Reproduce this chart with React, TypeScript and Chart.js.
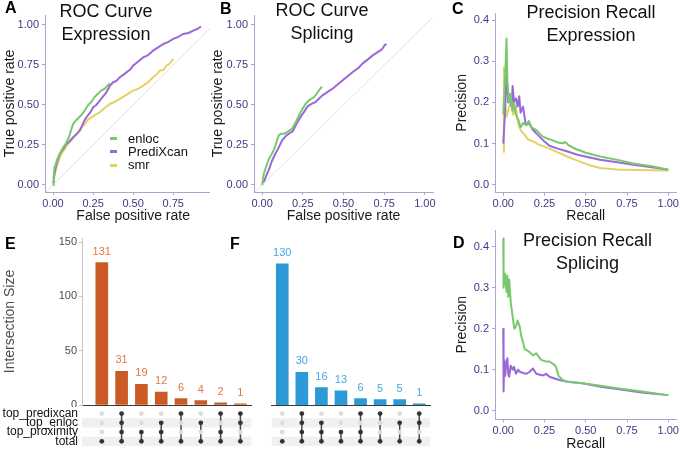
import React, { useEffect, useRef } from "react";
import { Chart, registerables } from "chart.js";

Chart.register(...registerables);

const FONT = "'Liberation Sans', Arial, Helvetica, sans-serif";
Chart.defaults.font.family = FONT;

// ---------------- data ----------------
const legendLabels = ["enloc", "PrediXcan", "smr"];

// ROC – Expression
const rocExprEnlocFpr = [0, 0.005, 0.01, 0.02, 0.03, 0.045, 0.06, 0.075, 0.09, 0.1, 0.115, 0.125, 0.14, 0.16, 0.18, 0.2, 0.22, 0.24, 0.26, 0.28, 0.3, 0.32, 0.34, 0.355];
const rocExprEnlocTpr = [0, 0.06, 0.11, 0.14, 0.17, 0.2, 0.23, 0.25, 0.28, 0.3, 0.35, 0.38, 0.4, 0.42, 0.44, 0.47, 0.5, 0.52, 0.55, 0.57, 0.59, 0.6, 0.62, 0.635];
const rocExprPredFpr = [0, 0.005, 0.017, 0.03, 0.042, 0.06, 0.083, 0.1, 0.125, 0.145, 0.167, 0.19, 0.208, 0.23, 0.25, 0.27, 0.292, 0.31, 0.333, 0.355, 0.375, 0.395, 0.417, 0.44, 0.458, 0.48, 0.5, 0.53, 0.563, 0.59, 0.625, 0.655, 0.688, 0.72, 0.75, 0.78, 0.813, 0.845, 0.875, 0.9, 0.923];
const rocExprPredTpr = [0, 0.05, 0.11, 0.16, 0.194, 0.22, 0.256, 0.27, 0.298, 0.315, 0.34, 0.39, 0.423, 0.45, 0.485, 0.5, 0.527, 0.55, 0.579, 0.62, 0.642, 0.65, 0.673, 0.69, 0.704, 0.72, 0.746, 0.77, 0.798, 0.81, 0.84, 0.86, 0.881, 0.895, 0.913, 0.925, 0.944, 0.95, 0.965, 0.975, 0.99];
const rocExprSmrFpr = [0, 0.01, 0.021, 0.035, 0.052, 0.07, 0.094, 0.12, 0.146, 0.17, 0.198, 0.22, 0.24, 0.265, 0.292, 0.32, 0.354, 0.385, 0.417, 0.46, 0.5, 0.53, 0.563, 0.59, 0.625, 0.645, 0.667, 0.69, 0.708, 0.73, 0.75];
const rocExprSmrTpr = [0, 0.06, 0.11, 0.15, 0.194, 0.22, 0.256, 0.285, 0.319, 0.35, 0.381, 0.41, 0.423, 0.44, 0.454, 0.48, 0.506, 0.52, 0.538, 0.565, 0.59, 0.6, 0.621, 0.64, 0.673, 0.69, 0.715, 0.72, 0.746, 0.76, 0.788];

// ROC – Splicing
const rocSplEnlocFpr = [0, 0.01, 0.02, 0.031, 0.045, 0.062, 0.08, 0.095, 0.103, 0.115, 0.134, 0.16, 0.186, 0.205, 0.227, 0.245, 0.268, 0.29, 0.32, 0.345, 0.367];
const rocSplEnlocTpr = [0, 0.07, 0.1, 0.135, 0.17, 0.198, 0.24, 0.29, 0.31, 0.32, 0.32, 0.335, 0.354, 0.39, 0.437, 0.47, 0.51, 0.53, 0.55, 0.585, 0.615];
const rocSplPredFpr = [0, 0.015, 0.03, 0.041, 0.06, 0.083, 0.1, 0.124, 0.15, 0.17, 0.186, 0.21, 0.237, 0.26, 0.278, 0.3, 0.33, 0.35, 0.371, 0.4, 0.433, 0.46, 0.495, 0.52, 0.557, 0.59, 0.618, 0.65, 0.68, 0.71, 0.732, 0.745, 0.753, 0.765];
const rocSplPredTpr = [0, 0.03, 0.07, 0.094, 0.15, 0.198, 0.23, 0.281, 0.31, 0.325, 0.333, 0.38, 0.427, 0.46, 0.49, 0.505, 0.52, 0.54, 0.56, 0.58, 0.602, 0.625, 0.654, 0.675, 0.706, 0.73, 0.76, 0.785, 0.81, 0.83, 0.844, 0.86, 0.875, 0.88];

// Precision-Recall – Expression
const prExprEnlocRecall = [0, 0.01, 0.02, 0.025, 0.035, 0.045, 0.055, 0.065, 0.077, 0.09, 0.105, 0.12, 0.14, 0.155, 0.17, 0.2, 0.22, 0.24, 0.27, 0.3, 0.33, 0.36, 0.375, 0.4, 0.44, 0.5, 0.586, 0.7, 0.788, 0.9, 1.0];
const prExprEnlocPrecision = [0.17, 0.25, 0.355, 0.25, 0.2, 0.22, 0.18, 0.2, 0.17, 0.16, 0.14, 0.15, 0.145, 0.155, 0.14, 0.133, 0.125, 0.117, 0.112, 0.108, 0.103, 0.101, 0.104, 0.095, 0.087, 0.078, 0.069, 0.06, 0.052, 0.045, 0.037];
const prExprPredRecall = [0, 0.01, 0.02, 0.03, 0.04, 0.05, 0.057, 0.065, 0.077, 0.087, 0.097, 0.105, 0.12, 0.137, 0.155, 0.177, 0.2, 0.22, 0.25, 0.28, 0.33, 0.38, 0.45, 0.586, 0.7, 0.788, 0.9, 1.0];
const prExprPredPrecision = [0.1, 0.17, 0.275, 0.2, 0.22, 0.19, 0.24, 0.2, 0.21, 0.19, 0.215, 0.175, 0.19, 0.145, 0.15, 0.135, 0.125, 0.117, 0.105, 0.095, 0.088, 0.082, 0.073, 0.061, 0.054, 0.049, 0.043, 0.037];
const prExprSmrRecall = [0, 0.004, 0.01, 0.02, 0.03, 0.036, 0.05, 0.06, 0.077, 0.085, 0.097, 0.11, 0.127, 0.15, 0.177, 0.22, 0.28, 0.33, 0.38, 0.43, 0.48, 0.53, 0.586, 0.69, 0.8, 1.0];
const prExprSmrPrecision = [0.08, 0.285, 0.2, 0.165, 0.18, 0.19, 0.2, 0.17, 0.19, 0.16, 0.14, 0.13, 0.123, 0.11, 0.106, 0.097, 0.088, 0.079, 0.07, 0.062, 0.054, 0.047, 0.041, 0.037, 0.036, 0.035];

// Precision-Recall – Splicing
const prSplEnlocRecall = [0, 0.002, 0.01, 0.02, 0.025, 0.03, 0.036, 0.046, 0.057, 0.067, 0.077, 0.087, 0.1, 0.11, 0.117, 0.13, 0.157, 0.18, 0.2, 0.23, 0.26, 0.28, 0.31, 0.32, 0.335, 0.36, 0.38, 0.48, 0.6, 0.69, 0.85, 1.0];
const prSplEnlocPrecision = [0.42, 0.3, 0.335, 0.29, 0.33, 0.278, 0.32, 0.262, 0.23, 0.2, 0.205, 0.22, 0.205, 0.18, 0.172, 0.15, 0.144, 0.135, 0.14, 0.124, 0.12, 0.12, 0.112, 0.107, 0.085, 0.075, 0.071, 0.067, 0.06, 0.055, 0.046, 0.038];
const prSplPredRecall = [0, 0.002, 0.006, 0.012, 0.018, 0.025, 0.03, 0.036, 0.045, 0.057, 0.065, 0.077, 0.09, 0.1, 0.12, 0.14, 0.16, 0.18, 0.2, 0.24, 0.26, 0.28, 0.34, 0.4, 0.48, 0.6, 0.69, 0.85, 1.0];
const prSplPredPrecision = [0.2, 0.047, 0.124, 0.085, 0.115, 0.128, 0.09, 0.083, 0.11, 0.1, 0.107, 0.09, 0.1, 0.095, 0.092, 0.09, 0.095, 0.103, 0.09, 0.086, 0.09, 0.083, 0.075, 0.07, 0.067, 0.058, 0.053, 0.044, 0.038];

// UpSet plots
const upsetSets = ["top_predixcan", "top_enloc", "top_proximity", "total"];
const exprIntersectionSizes = [131, 31, 19, 12, 6, 4, 2, 1];
const exprMembership = [
  [0, 0, 0, 1],
  [1, 1, 1, 1],
  [0, 0, 1, 1],
  [0, 1, 1, 1],
  [1, 0, 0, 1],
  [0, 1, 0, 1],
  [1, 0, 1, 1],
  [1, 1, 0, 1],
];
const splIntersectionSizes = [130, 30, 16, 13, 6, 5, 5, 1];
const splMembership = [
  [0, 0, 0, 1],
  [1, 1, 1, 1],
  [0, 1, 1, 1],
  [0, 0, 1, 1],
  [1, 0, 1, 1],
  [1, 0, 0, 1],
  [0, 1, 0, 1],
  [1, 1, 0, 1],
];

const rocTicks = [0, 0.25, 0.5, 0.75, 1];
const rocTicksA = [0, 0.25, 0.5, 0.75];
const prTicks = [0, 0.1, 0.2, 0.3, 0.4];
const upsetYTicks = [0, 50, 100, 150];

// ---------------- styles ----------------
const GREEN = "#78c96b";
const PURPLE = "#9b69d6";
const YELLOW = "#e4d266";
const AXIS_TEXT = "#3c3a84";
const AXIS_LINE = "#aba5d3";
const ORANGE = "#cc5a25";
const ORANGE_TXT = "#e2773f";
const BLUE = "#2b9ad6";
const BLUE_TXT = "#43a8e0";

function pts(xs: number[], ys: number[]) {
  return xs.map((x, i) => ({ x, y: ys[i] }));
}

function fixSize(w: number | null, h: number | null) {
  return (s: any) => {
    if (w !== null) s.width = w;
    if (h !== null) s.height = h;
    s.paddingTop = 0;
    s.paddingBottom = 0;
    s.paddingLeft = 0;
    s.paddingRight = 0;
  };
}

function linePanel(o: any) {
  const datasets: any[] = [];
  if (o.diagonal) {
    datasets.push({
      data: [{ x: -0.2, y: -0.2 }, { x: 1.3, y: 1.3 }],
      borderColor: "#e2e2e2",
      borderWidth: 1,
      pointRadius: 0,
      showLine: true,
    });
  }
  o.series.forEach((s: any) =>
    datasets.push({
      data: pts(s.xs, s.ys),
      borderColor: s.color,
      borderWidth: 2,
      pointRadius: 0,
      showLine: true,
      tension: 0,
      borderJoinStyle: "round",
    })
  );
  return {
    type: "scatter",
    data: { datasets },
    options: {
      responsive: false,
      animation: false,
      devicePixelRatio: 1,
      events: [],
      layout: { padding: o.pad },
      plugins: { legend: { display: false }, tooltip: { enabled: false } },
      scales: {
        x: {
          type: "linear",
          min: o.xMin,
          max: o.xMax,
          afterBuildTicks: (s: any) => {
            s.ticks = o.xTicks.map((v: number) => ({ value: v }));
          },
          afterFit: fixSize(null, o.xAxisH),
          ticks: {
            callback: (v: any) => Number(v).toFixed(2),
            color: AXIS_TEXT,
            font: { size: 11 },
            padding: 2,
            autoSkip: false,
            maxRotation: 0,
          },
          grid: { drawOnChartArea: false, drawTicks: true, tickLength: 3, color: AXIS_LINE },
          border: { color: AXIS_LINE, width: 1 },
          title: {
            display: true,
            text: o.xTitle,
            color: "#1a1a1a",
            font: { size: 14, lineHeight: 1.2 },
            padding: { top: 0, bottom: o.xTitlePad },
          },
        },
        y: {
          type: "linear",
          min: o.yMin,
          max: o.yMax,
          afterBuildTicks: (s: any) => {
            s.ticks = o.yTicks.map((v: number) => ({ value: v }));
          },
          afterFit: fixSize(o.yAxisW, null),
          ticks: {
            callback: (v: any) => Number(v).toFixed(o.yDec),
            color: AXIS_TEXT,
            font: { size: 11 },
            padding: 3,
            autoSkip: false,
          },
          grid: { drawOnChartArea: false, drawTicks: true, tickLength: 3, color: AXIS_LINE },
          border: { color: AXIS_LINE, width: 1 },
          title: {
            display: true,
            text: o.yTitle,
            color: "#1a1a1a",
            font: { size: 14, lineHeight: 1.2 },
            padding: { top: o.yTitlePad, bottom: 0 },
          },
        },
      },
    },
  };
}

function barLabelPlugin(color: string) {
  return {
    id: "barLabels",
    afterDatasetsDraw(chart: any) {
      const ctx = chart.ctx;
      const meta = chart.getDatasetMeta(0);
      const data = chart.data.datasets[0].data;
      ctx.save();
      ctx.font = `11px ${FONT}`;
      ctx.fillStyle = color;
      ctx.textAlign = "center";
      ctx.textBaseline = "middle";
      meta.data.forEach((el: any, i: number) => {
        ctx.fillText(String(data[i].y), el.x, el.y - 11);
      });
      ctx.restore();
    },
  };
}

function upsetBars(sizes: number[], color: string, labelColor: string, showY: boolean, o: any) {
  return {
    type: "bar",
    data: {
      datasets: [
        {
          data: sizes.map((v, i) => ({ x: i + 1, y: v })),
          backgroundColor: color,
          barThickness: 12,
          borderWidth: 0,
        },
      ],
    },
    options: {
      responsive: false,
      animation: false,
      devicePixelRatio: 1,
      events: [],
      layout: { padding: o.pad },
      plugins: { legend: { display: false }, tooltip: { enabled: false } },
      scales: {
        x: {
          type: "linear",
          min: o.xMin,
          max: o.xMax,
          offset: false,
          ticks: { display: false },
          grid: { display: false },
          border: { display: true, color: "#3a3a3a", width: 1 },
          afterFit: fixSize(null, 0),
        },
        y: {
          display: showY,
          type: "linear",
          min: 0,
          max: 153.7,
          afterBuildTicks: (s: any) => {
            s.ticks = upsetYTicks.map((v) => ({ value: v }));
          },
          afterFit: fixSize(showY ? 82 : 0, null),
          ticks: { color: "#4d4d4d", font: { size: 11 }, padding: 2 },
          grid: { drawOnChartArea: false, drawTicks: true, tickLength: 3, color: "#c4c4c4" },
          border: { color: "#c4c4c4", width: 1 },
          title: {
            display: true,
            text: "Intersection Size",
            color: "#4d4d4d",
            font: { size: 14, lineHeight: 1.2 },
            padding: { top: 1.6, bottom: 0 },
          },
        },
      },
    },
    plugins: [barLabelPlugin(labelColor)],
  };
}

const stripePlugin = {
  id: "stripes",
  beforeDatasetsDraw(chart: any) {
    const { ctx, chartArea } = chart;
    const y = chart.scales.y;
    ctx.save();
    ctx.fillStyle = "#f0f0f0";
    [2, 0].forEach((v) => {
      const t = y.getPixelForValue(v + 0.5);
      const b = y.getPixelForValue(v - 0.5);
      ctx.fillRect(chartArea.left, t, chartArea.right - chartArea.left, b - t);
    });
    ctx.restore();
  },
};

function upsetMatrix(membership: number[][], showLabels: boolean, o: any) {
  const inactive: any[] = [];
  const lines: any[] = [];
  membership.forEach((col, ci) => {
    const active: any[] = [];
    col.forEach((m, ri) => {
      const p = { x: ci + 1, y: 3 - ri };
      if (m) active.push(p);
      else inactive.push(p);
    });
    lines.push({
      data: active,
      showLine: true,
      borderColor: "#4a4a4a",
      borderWidth: 1.5,
      pointRadius: 2.4,
      pointBackgroundColor: "#333333",
      pointBorderWidth: 0,
    });
  });
  return {
    type: "scatter",
    data: {
      datasets: [
        { data: inactive, pointRadius: 2.4, pointBackgroundColor: "#dcdcdc", pointBorderWidth: 0, showLine: false },
        ...lines,
      ],
    },
    options: {
      responsive: false,
      animation: false,
      devicePixelRatio: 1,
      events: [],
      layout: { padding: o.pad },
      plugins: { legend: { display: false }, tooltip: { enabled: false } },
      scales: {
        x: { type: "linear", min: o.xMin, max: o.xMax, display: false, afterFit: fixSize(null, 0) },
        y: {
          type: "linear",
          min: -0.5,
          max: 3.5,
          display: showLabels,
          afterBuildTicks: (s: any) => {
            s.ticks = [3, 2, 1, 0].map((v) => ({ value: v }));
          },
          afterFit: fixSize(showLabels ? 82 : 0, null),
          ticks: {
            callback: (v: any) => upsetSets[3 - Number(v)],
            color: "#111111",
            font: { size: 12 },
            padding: 4,
            autoSkip: false,
          },
          grid: { display: false, drawTicks: false },
          border: { display: false },
        },
      },
    },
    plugins: [stripePlugin],
  };
}

function ChartBox(props: any) {
  const { left, top, width, height, make, bg } = props;
  const ref = useRef<HTMLCanvasElement>(null);
  useEffect(() => {
    const chart = new Chart(ref.current as HTMLCanvasElement, make());
    return () => chart.destroy();
  }, []);
  return (
    <canvas
      ref={ref}
      width={width}
      height={height}
      style={{ position: "absolute", left, top, width, height, background: bg || "transparent" }}
    />
  );
}

function Title({ cx, top, lines }: any) {
  return (
    <div
      style={{
        position: "absolute",
        left: cx - 90,
        width: 180,
        top,
        textAlign: "center",
        fontFamily: FONT,
        fontSize: 18,
        lineHeight: "23px",
        color: "#111",
        whiteSpace: "nowrap",
      }}
    >
      {lines.map((l: string, i: number) => (
        <div key={i}>{l}</div>
      ))}
    </div>
  );
}

function Letter({ x, y, t }: any) {
  return (
    <div
      style={{
        position: "absolute",
        left: x,
        top: y,
        fontFamily: FONT,
        fontWeight: "bold",
        fontSize: 16,
        lineHeight: "16px",
        color: "#000",
      }}
    >
      {t}
    </div>
  );
}

export default function App() {
  const legendColors = [GREEN, PURPLE, YELLOW];
  const legendY = [138.5, 151.7, 165];
  return (
    <div
      style={{
        position: "fixed",
        left: 0,
        top: 0,
        width: 680,
        height: 450,
        background: "#fff",
        overflow: "hidden",
        fontFamily: FONT,
      }}
    >
      {/* A */}
      <ChartBox
        left={0}
        top={0}
        width={228}
        height={225}
        make={() =>
          linePanel({
            diagonal: true,
            series: [
              { xs: rocExprEnlocFpr, ys: rocExprEnlocTpr, color: GREEN },
              { xs: rocExprPredFpr, ys: rocExprPredTpr, color: PURPLE },
              { xs: rocExprSmrFpr, ys: rocExprSmrTpr, color: YELLOW },
            ],
            xMin: -0.05,
            xMax: 1.05,
            yMin: -0.044,
            yMax: 1.0625,
            xTicks: rocTicksA,
            yTicks: rocTicks,
            yDec: 2,
            xTitle: "False positive rate",
            yTitle: "True positive rate",
            yAxisW: 45,
            yTitlePad: 1.6,
            xAxisH: 33,
            xTitlePad: 0.6,
            pad: { left: 0, top: 15, right: 6.7, bottom: 0 },
          })
        }
      />
      {/* B */}
      <ChartBox
        left={210}
        top={0}
        width={230}
        height={225}
        bg="#ffffff"
        make={() =>
          linePanel({
            diagonal: true,
            series: [
              { xs: rocSplEnlocFpr, ys: rocSplEnlocTpr, color: GREEN },
              { xs: rocSplPredFpr, ys: rocSplPredTpr, color: PURPLE },
            ],
            xMin: -0.05,
            xMax: 1.05,
            yMin: -0.044,
            yMax: 1.0625,
            xTicks: rocTicks,
            yTicks: rocTicks,
            yDec: 2,
            xTitle: "False positive rate",
            yTitle: "True positive rate",
            yAxisW: 44,
            yTitlePad: 0,
            xAxisH: 33,
            xTitlePad: 0.6,
            pad: { left: 0, top: 15, right: 7, bottom: 0 },
          })
        }
      />
      {/* C */}
      <ChartBox
        left={440}
        top={0}
        width={240}
        height={225}
        make={() =>
          linePanel({
            diagonal: false,
            series: [
              { xs: prExprEnlocRecall, ys: prExprEnlocPrecision, color: GREEN },
              { xs: prExprPredRecall, ys: prExprPredPrecision, color: PURPLE },
              { xs: prExprSmrRecall, ys: prExprSmrPrecision, color: YELLOW },
            ],
            xMin: -0.05,
            xMax: 1.05,
            yMin: -0.019,
            yMax: 0.417,
            xTicks: rocTicks,
            yTicks: prTicks,
            yDec: 1,
            xTitle: "Recall",
            yTitle: "Precision",
            yAxisW: 55,
            yTitlePad: 13.6,
            xAxisH: 32.3,
            xTitlePad: 0.6,
            pad: { left: 0, top: 13, right: 3.5, bottom: 0 },
          })
        }
      />
      {/* D */}
      <ChartBox
        left={440}
        top={225}
        width={240}
        height={225}
        make={() =>
          linePanel({
            diagonal: false,
            series: [
              { xs: prSplEnlocRecall, ys: prSplEnlocPrecision, color: GREEN },
              { xs: prSplPredRecall, ys: prSplPredPrecision, color: PURPLE },
            ],
            xMin: -0.05,
            xMax: 1.05,
            yMin: -0.021,
            yMax: 0.441,
            xTicks: rocTicks,
            yTicks: prTicks,
            yDec: 1,
            xTitle: "Recall",
            yTitle: "Precision",
            yAxisW: 55,
            yTitlePad: 13.6,
            xAxisH: 30.7,
            xTitlePad: -2.4,
            pad: { left: 0, top: 5, right: 3.5, bottom: 0 },
          })
        }
      />
      {/* E bars */}
      <ChartBox
        left={0}
        top={225}
        width={262}
        height={182}
        make={() =>
          upsetBars(exprIntersectionSizes, ORANGE, ORANGE_TXT, true, {
            xMin: 0,
            xMax: 8.55,
            pad: { left: 0, top: 13, right: 10.7, bottom: 2 },
          })
        }
      />
      {/* E matrix */}
      <ChartBox
        left={0}
        top={405}
        width={262}
        height={45}
        make={() =>
          upsetMatrix(exprMembership, true, {
            xMin: 0,
            xMax: 8.55,
            pad: { left: 0, top: 1.8, right: 10.7, bottom: 4.1 },
          })
        }
      />
      {/* F bars */}
      <ChartBox
        left={262}
        top={225}
        width={178}
        height={182}
        make={() =>
          upsetBars(splIntersectionSizes, BLUE, BLUE_TXT, false, {
            xMin: 0.46,
            xMax: 8.55,
            pad: { left: 9.7, top: 13, right: 10, bottom: 2 },
          })
        }
      />
      {/* F matrix */}
      <ChartBox
        left={262}
        top={405}
        width={178}
        height={45}
        make={() =>
          upsetMatrix(splMembership, false, {
            xMin: 0.46,
            xMax: 8.55,
            pad: { left: 9.7, top: 1.8, right: 10, bottom: 4.1 },
          })
        }
      />

      {/* titles */}
      <Title cx={106} top={0} lines={["ROC Curve", "Expression"]} />
      <Title cx={322} top={-1} lines={["ROC Curve", "Splicing"]} />
      <Title cx={591} top={1} lines={["Precision Recall", "Expression"]} />
      <Title cx={587.5} top={229} lines={["Precision Recall", "Splicing"]} />

      {/* legend */}
      {legendLabels.map((l, i) => (
        <React.Fragment key={l}>
          <div
            style={{
              position: "absolute",
              left: 110,
              top: legendY[i] - 1.5,
              width: 7,
              height: 3,
              background: legendColors[i],
            }}
          />
          <div
            style={{
              position: "absolute",
              left: 128,
              top: legendY[i] - 8,
              fontFamily: FONT,
              fontSize: 13,
              lineHeight: "15px",
              color: "#111",
              whiteSpace: "nowrap",
            }}
          >
            {l}
          </div>
        </React.Fragment>
      ))}

      {/* panel letters */}
      <Letter x={5} y={0} t="A" />
      <Letter x={220} y={1} t="B" />
      <Letter x={452} y={1} t="C" />
      <Letter x={453} y={235} t="D" />
      <Letter x={5} y={236} t="E" />
      <Letter x={230} y={236} t="F" />
    </div>
  );
}
